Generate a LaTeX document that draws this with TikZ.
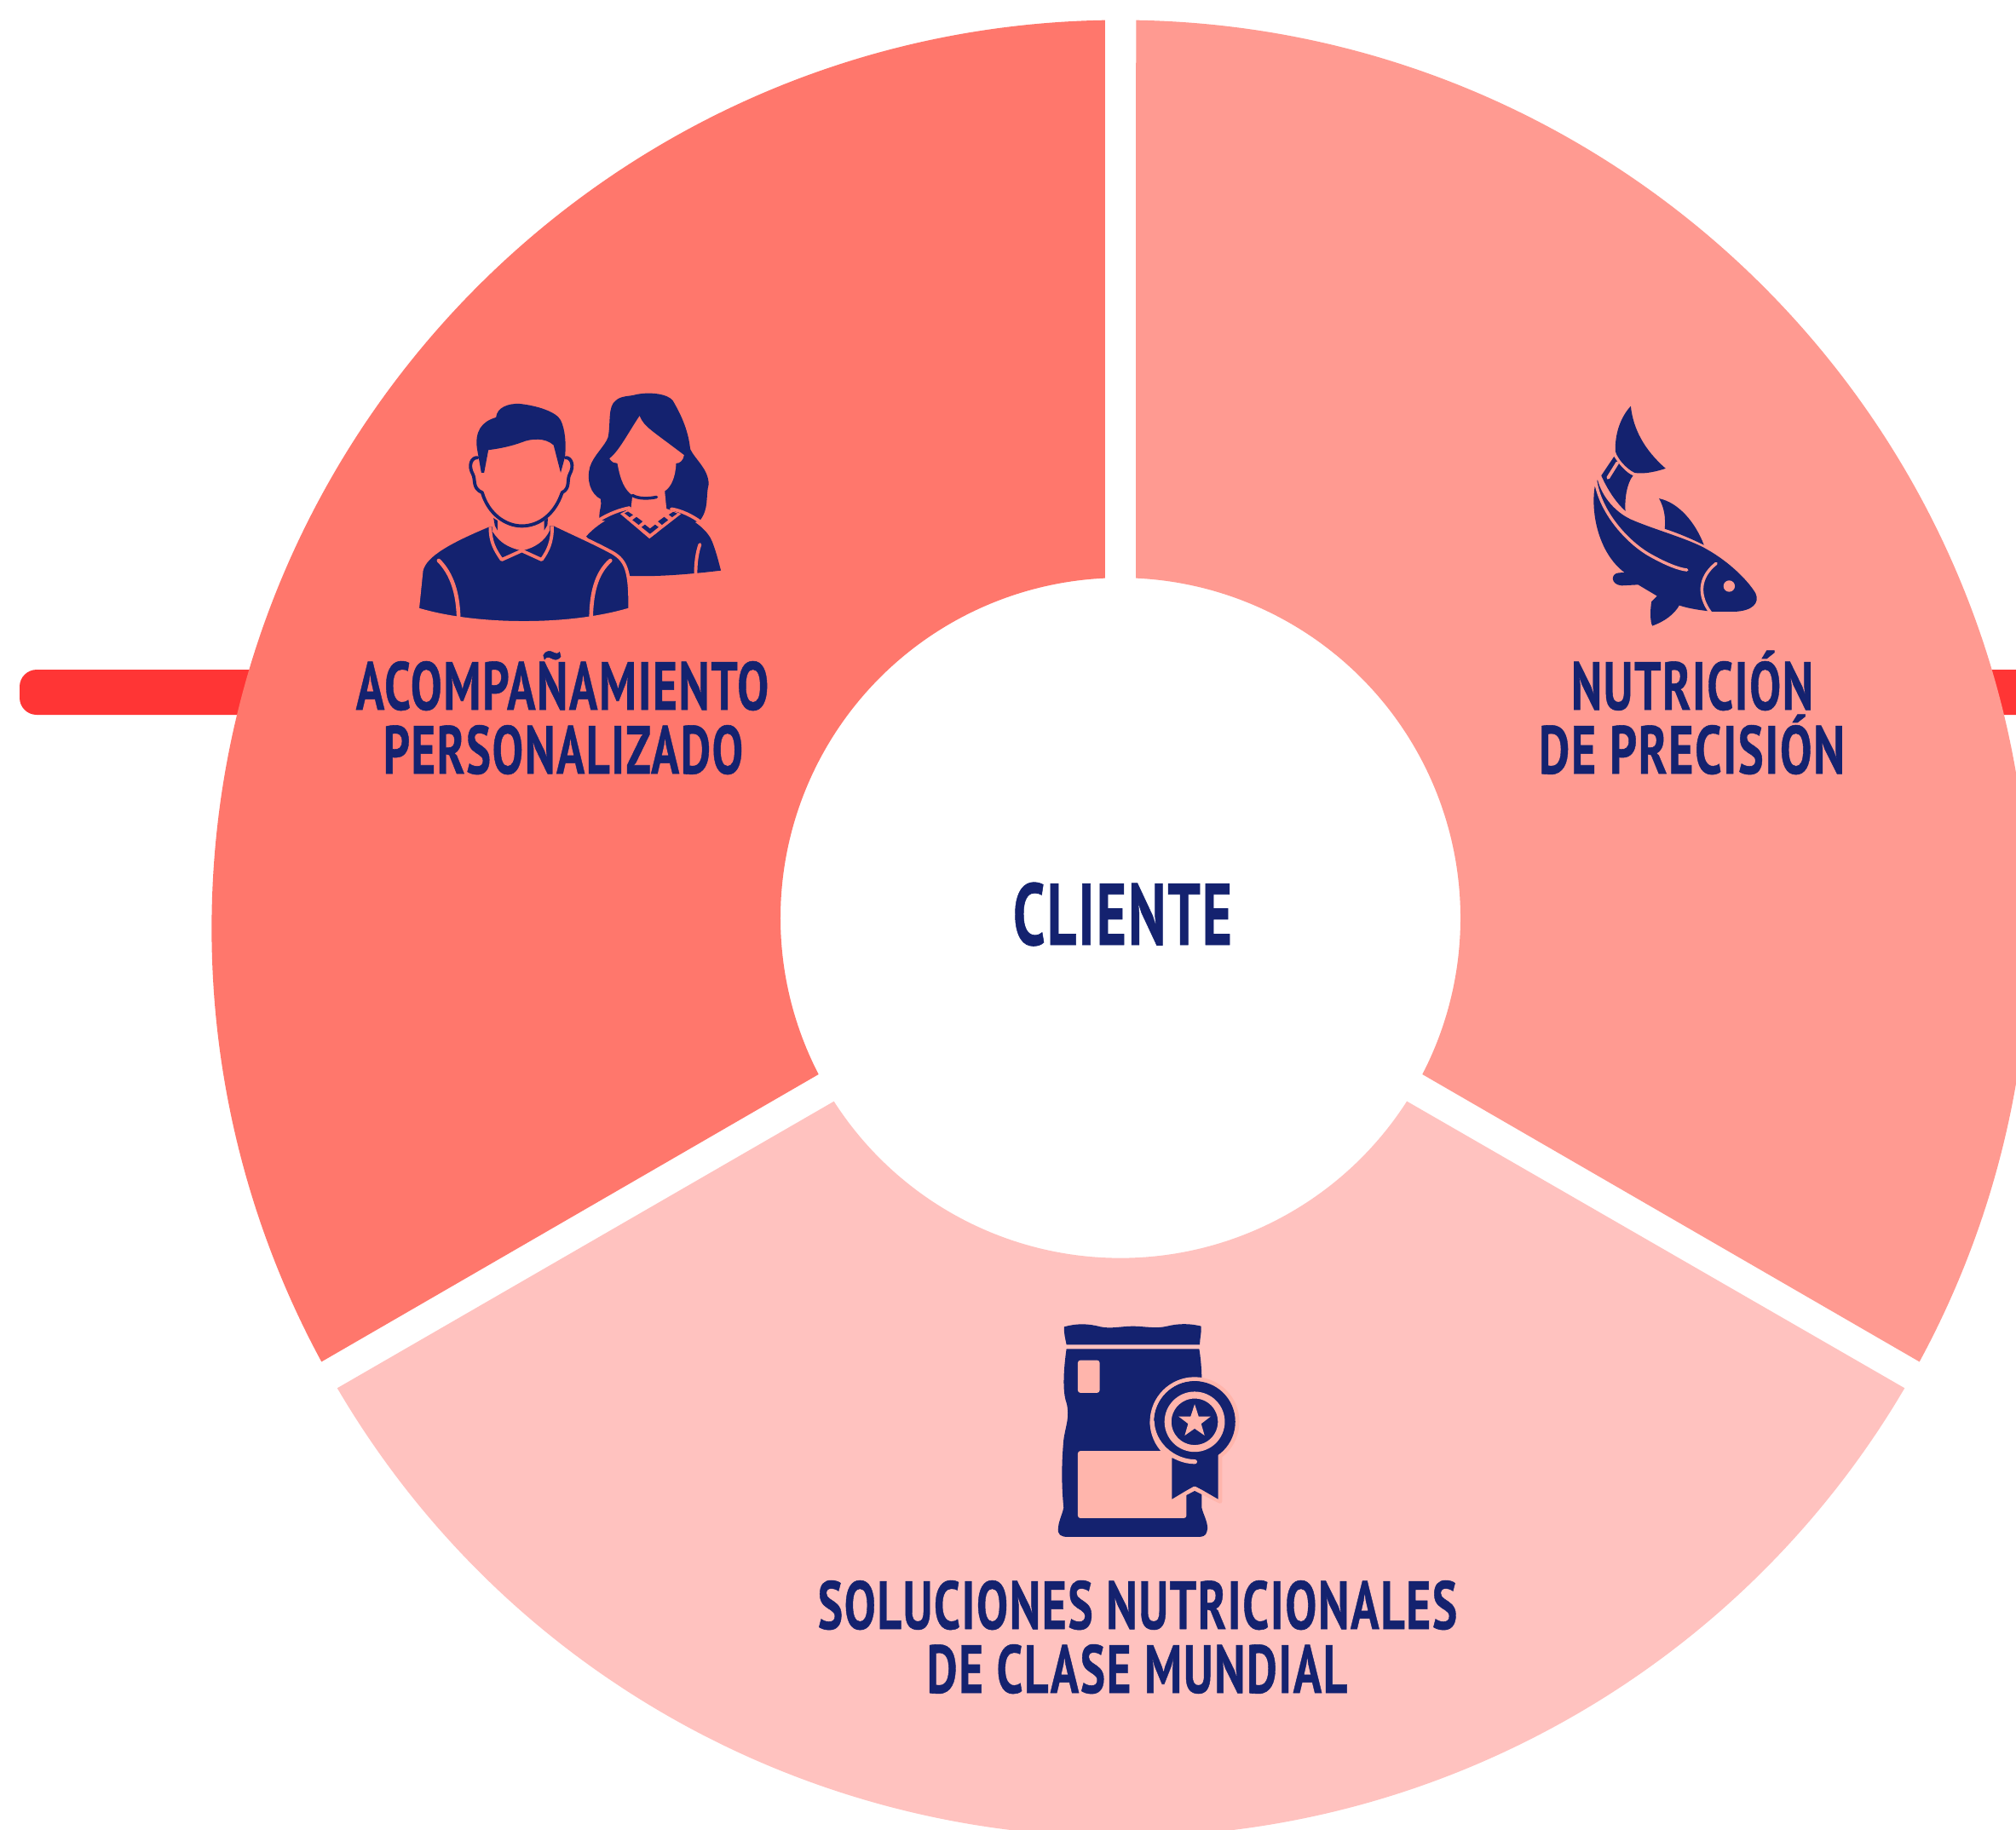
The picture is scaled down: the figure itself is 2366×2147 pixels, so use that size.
\documentclass[tikz,border=0pt]{standalone}
\usepackage{fontspec}
\usepackage{graphicx}
\setmainfont[BoldFeatures={FakeBold=0.7,LetterSpace=3}]{PT Sans}
\definecolor{navy}{HTML}{14226F}
\definecolor{secL}{HTML}{FF776C}
\definecolor{secR}{HTML}{FF9A91}
\definecolor{secB}{HTML}{FFC2BF}
\definecolor{barred}{HTML}{FF3535}
\definecolor{peach}{HTML}{FFB5AC}
\newcommand{\fitlab}[2]{\resizebox{#1cm}{\height}{\bfseries #2}}
\tikzset{
  x=0.01cm,y=-0.01cm,
  lab/.style={anchor=base,inner sep=0pt,outer sep=0pt,text=navy,font=\fontsize{22.7}{26}\selectfont},
  bigl/.style={lab,font=\fontsize{29.2}{32}\selectfont},
  ink/.style={fill=navy,draw=none},
  bar/.style={fill=barred,rounded corners=0.2cm},
}
\begin{document}
\begin{tikzpicture}
\useasboundingbox (0,0) rectangle (2366,2147);
\fill[white] (0,0) rectangle (2366,2147);
\clip (0,0) rectangle (2366,2147);
% bars
\fill[bar] (23,786) rectangle (420,839);
\fill[bar] (2300,786) rectangle (2420,839);
% sectors
\fill[secL] (1296.75,23.66) arc[start angle=90.98,end angle=208.46,radius=10.66cm]
  -- (960.7,1261) arc[start angle=207.38,end angle=92.62,radius=3.99cm] -- cycle;
\fill[secR] (1333.25,23.66) arc[start angle=89.02,end angle=-28.46,radius=10.66cm]
  -- (1669.3,1261) arc[start angle=-27.38,end angle=87.38,radius=3.99cm] -- cycle;
\fill[secB] (978.9,1292.6) -- (395.8,1629.3) arc[start angle=210.42,end angle=329.58,radius=10.66cm]
  -- (1651.1,1292.6) arc[start angle=327.38,end angle=212.62,radius=3.99cm] -- cycle;
% people icon
\begin{scope}[shift={(470,440)},x=0.003333cm,y=-0.003333cm]
  % woman hair
  \fill[navy] (702,510) .. controls (698,480) and (712,460) .. (706,438)
    .. controls (670,420) and (655,370) .. (668,325)
    .. controls (680,285) and (722,250) .. (732,220)
    .. controls (742,170) and (730,110) .. (760,90)
    .. controls (775,75) and (805,75) .. (820,72)
    .. controls (870,58) and (940,65) .. (960,90)
    .. controls (995,150) and (1015,200) .. (1022,262)
    .. controls (1040,300) and (1085,330) .. (1087,385)
    .. controls (1075,430) and (1090,470) .. (1055,515) -- (880,560) -- cycle;
  % woman body
  \fill[navy] (655,570) .. controls (690,530) and (735,505) .. (775,490) -- (878,577) -- (990,492)
    .. controls (1040,515) and (1085,550) .. (1100,590)
    .. controls (1115,630) and (1122,660) .. (1130,690)
    .. controls (1050,700) and (900,715) .. (790,708) -- cycle;
  % woman face, neck and collar band
  \fill[secL] (843,145) .. controls (860,185) and (885,195) .. (1000,283)
    .. controls (997,302) and (985,312) .. (972,312)
    .. controls (970,360) and (955,395) .. (932,410) -- (938,472) -- (990,490) -- (878,577) -- (775,490) -- (813,470) -- (818,425)
    .. controls (790,405) and (775,370) .. (765,312)
    .. controls (755,312) and (745,308) .. (737,295)
    .. controls (770,270) and (800,210) .. (843,145) -- cycle;
  \draw[navy,line width=1pt,line cap=round] (818,425) .. controls (840,438) and (875,437) .. (903,431);
  % collar dashes
  \fill[navy] (790,488) -- (802,482) -- (820,494) -- (808,502) -- cycle;
  \fill[navy] (818,512) -- (832,501) -- (854,517) -- (840,529) -- cycle;
  \fill[navy] (850,537) -- (862,528) -- (880,542) -- (898,528) -- (910,537) -- (880,561) -- cycle;
  \fill[navy] (908,517) -- (930,501) -- (944,512) -- (922,529) -- cycle;
  \fill[navy] (946,493) -- (962,483) -- (976,489) -- (958,502) -- cycle;
  % woman outlines
  \draw[secL,line width=1.1pt,line cap=round] (700,512) .. controls (735,490) and (775,475) .. (808,469);
  \draw[secL,line width=1.1pt,line cap=round] (955,473) .. controls (990,478) and (1030,498) .. (1057,518);
  \draw[secL,line width=1.1pt,line cap=round] (1056,598) .. controls (1045,630) and (1041,665) .. (1041,705);
  % man body
  \fill[navy,draw=secL,line width=1.1pt] (60,827) -- (74,690)
    .. controls (85,635) and (180,585) .. (312,530) -- (540,526)
    .. controls (610,560) and (680,590) .. (748,627)
    .. controls (795,655) and (811,690) .. (809,827)
    .. controls (600,890) and (270,890) .. (60,827) -- cycle;
  % man neck and collar
  \fill[secL] (325,553) .. controls (350,590) and (375,608) .. (428,620)
    .. controls (475,610) and (510,585) .. (527,547) -- (527,500) -- (325,500) -- cycle;
  \draw[secL,line width=1.1pt,line join=round] (317,536) .. controls (316,590) and (335,620) .. (357,652) -- (428,620) -- (498,652)
    .. controls (520,620) and (536,590) .. (535,533);
  \fill[navy] (328,505) -- (342,514) -- (342,548) -- (333,532) -- cycle;
  \fill[navy] (520,505) -- (507,514) -- (507,548) -- (518,530) -- cycle;
  % man head
  \fill[secL] (270,290) -- (590,290) -- (565,420) .. controls (545,490) and (490,533) .. (428,533)
    .. controls (370,533) and (310,490) .. (288,415) -- cycle;
  \fill[navy] (285,345) -- (270,260) .. controls (262,200) and (285,165) .. (337,150)
    .. controls (340,115) and (380,100) .. (420,102)
    .. controls (480,108) and (550,130) .. (565,160)
    .. controls (580,190) and (585,240) .. (580,290) -- (565,345) -- (540,248)
    .. controls (510,220) and (460,225) .. (430,237)
    .. controls (390,252) and (350,260) .. (310,265) -- (295,345) -- cycle;
  \draw[navy,line width=1.1pt,line cap=round,line join=round] (272,292) .. controls (250,290) and (238,320) .. (255,350)
    .. controls (266,370) and (252,400) .. (288,415)
    .. controls (310,490) and (370,533) .. (428,533)
    .. controls (490,533) and (545,490) .. (570,415)
    .. controls (600,400) and (586,370) .. (597,350)
    .. controls (614,320) and (602,290) .. (582,292);
  % sleeves
  \draw[secL,line width=1.3pt,line cap=round] (135,655) .. controls (180,700) and (205,770) .. (205,870);
  \draw[secL,line width=1.3pt,line cap=round] (740,655) .. controls (690,700) and (672,770) .. (672,870);
\end{scope}
% fish icon
\begin{scope}[shift={(1840,460)},x=0.003333cm,y=-0.003333cm]
  \fill[navy] (222,50) .. controls (230,130) and (270,205) .. (345,270)
    .. controls (300,285) and (260,290) .. (235,285)
    .. controls (205,270) and (175,235) .. (168,210)
    .. controls (165,150) and (185,90) .. (222,50) -- cycle;
  \fill[navy] (163,228) -- (118,295) .. controls (140,345) and (170,390) .. (203,420)
    .. controls (200,370) and (210,320) .. (230,295)
    .. controls (205,285) and (180,255) .. (163,228) -- cycle;
  \draw[secR,line width=1.1pt,line cap=round] (175,250) -- (142,303);
  \fill[navy] (105,310) .. controls (120,370) and (170,430) .. (235,455)
    .. controls (320,490) and (430,520) .. (490,555)
    .. controls (570,600) and (635,665) .. (662,710)
    .. controls (678,745) and (650,772) .. (590,775) -- (510,775) -- (495,773)
    .. controls (470,770) and (430,765) .. (393,753)
    .. controls (375,785) and (340,810) .. (298,825)
    .. controls (290,810) and (290,770) .. (295,740) -- (315,720) -- (248,680) -- (190,683)
    .. controls (150,680) and (150,640) .. (180,638) -- (200,637)
    .. controls (110,570) and (80,430) .. (95,335) -- cycle;
  \draw[secR,line width=1pt,line cap=round] (98,315) .. controls (115,420) and (200,520) .. (280,570)
    .. controls (340,605) and (390,625) .. (420,628);
  \draw[secR,line width=1pt,line cap=round] (523,605) .. controls (460,655) and (460,720) .. (503,778);
  \fill[secR] (569,685) circle[radius=0.0667cm];
  \fill[navy] (322,376) .. controls (390,390) and (450,460) .. (480,540)
    .. controls (430,515) and (380,495) .. (342,483)
    .. controls (345,440) and (340,410) .. (322,376) -- cycle;
\end{scope}
% bag icon
\begin{scope}[shift={(1220,1540)},x=0.003333cm,y=-0.003333cm]
  \fill[navy] (87,52) .. controls (130,40) and (170,40) .. (215,52)
    .. controls (250,60) and (290,50) .. (330,50)
    .. controls (370,50) and (410,60) .. (450,50)
    .. controls (490,40) and (530,40) .. (570,50)
    .. controls (572,70) and (565,95) .. (565,115) -- (95,115)
    .. controls (90,90) and (85,70) .. (87,52) -- cycle;
  \fill[navy] (95,130) -- (563,130) .. controls (568,160) and (572,200) .. (572,240) -- (572,690)
    .. controls (575,710) and (600,750) .. (590,775)
    .. controls (586,790) and (575,793) .. (560,793) -- (100,793)
    .. controls (75,793) and (62,785) .. (66,760)
    .. controls (68,735) and (80,715) .. (85,690)
    .. controls (80,640) and (75,560) .. (85,450)
    .. controls (92,400) and (108,370) .. (95,320)
    .. controls (80,280) and (85,200) .. (95,130) -- cycle;
  \fill[peach,rounded corners=0.03cm] (135,170) rectangle (212,285);
  \fill[peach,rounded corners=0.03cm] (135,490) rectangle (518,727);
  % badge halo
  \draw[peach,line width=1.4pt,line join=round] (547,387) circle[radius=0.5cm];
  \draw[peach,line width=1.4pt,line join=round] (637,500) -- (637,668) -- (547,622) -- (460,668);
  % badge
  \fill[navy] (547,387) circle[radius=0.477cm];
  \fill[navy] (467,515) -- (467,660) -- (547,612) -- (630,660) -- (630,500) -- cycle;
  \draw[peach,line width=1.5pt,line cap=round] (397,387) .. controls (400,465) and (470,527) .. (548,528);
  \draw[peach,line width=2.3pt] (547,387) circle[radius=0.313cm];
  \fill[peach] (547,325) -- (561,368) -- (604,368) -- (570,394) -- (582,435.5) -- (547,411)
    -- (512,435.5) -- (524,394) -- (490,368) -- (533,368) -- cycle;
\end{scope}
% labels
\node[lab] (acomp) at (660,833) {\fitlab{4.84}{ACOMPAÑAMIENTO}};
\node[lab] (perso) at (661,908) {\fitlab{4.22}{PERSONALIZADO}};
\node[lab] (nutri) at (1986,833) {\fitlab{2.84}{NUTRICIÓN}};
\node[lab] (depre) at (1985.5,908) {\fitlab{3.59}{DE PRECISIÓN}};
\node[bigl] (clien) at (1317.5,1109) {\fitlab{2.57}{CLIENTE}};
\node[lab] (soluc) at (1335,1912) {\fitlab{7.50}{SOLUCIONES NUTRICIONALES}};
\node[lab] (clase) at (1334.5,1987) {\fitlab{4.93}{DE CLASE MUNDIAL}};
\end{tikzpicture}
\end{document}
